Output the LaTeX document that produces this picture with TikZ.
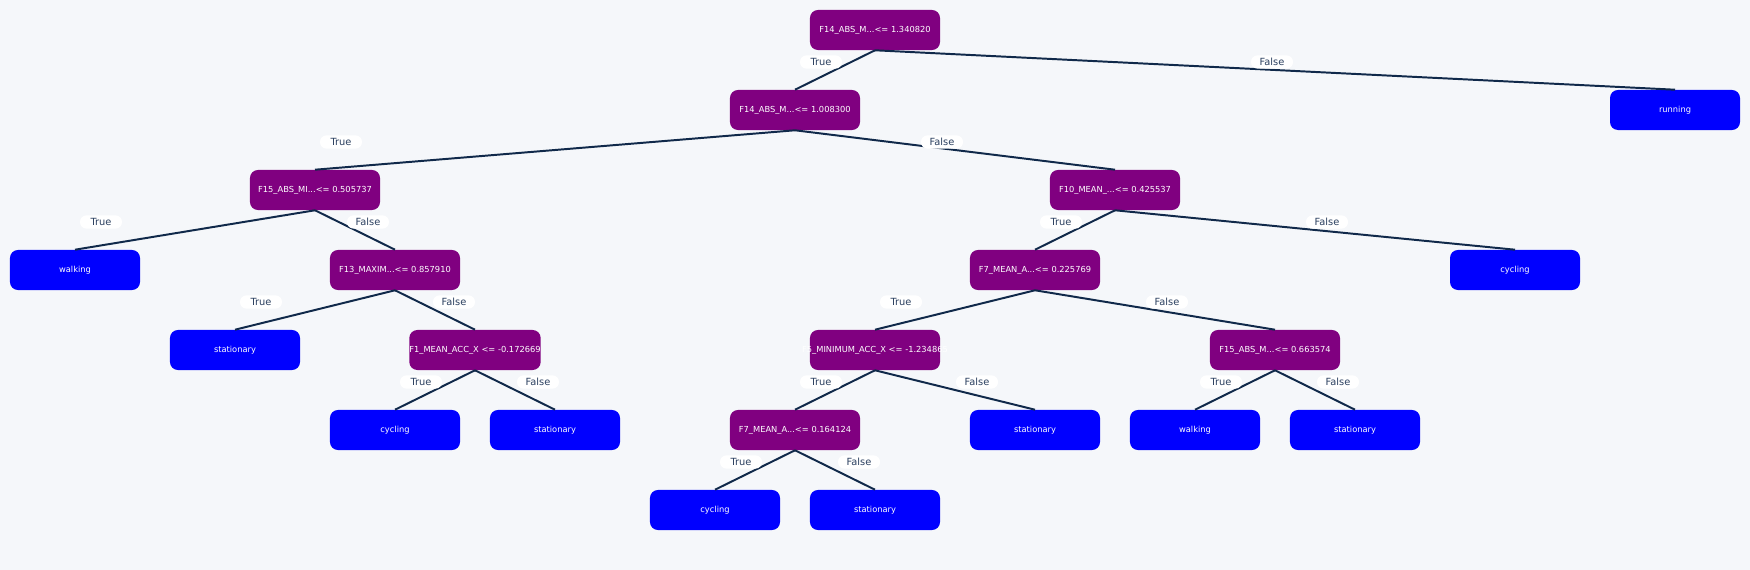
\documentclass[tikz,border=0pt]{standalone}
\usepackage{fontspec}
\setmainfont{DejaVu Sans}
\usepackage{tikz}

\definecolor{bgcol}{HTML}{F5F7FA}
\definecolor{splitcol}{HTML}{800080}
\definecolor{leafcol}{HTML}{0000FF}
\definecolor{edgecol}{HTML}{10294A}
\definecolor{labcol}{HTML}{2A3F5F}

\begin{document}
\begin{tikzpicture}[x=0.025cm, y=-0.025cm,
        splitnode/.style={fill=splitcol, text=white, rounded corners=0.2cm, minimum width=3.25cm, minimum height=1cm, inner sep=0pt, font=\fontsize{5.9}{7}\selectfont},
        leafnode/.style={splitnode, fill=leafcol},
        branch/.style={fill=white, text=labcol, rounded corners=0.16cm, minimum width=1.05cm, minimum height=0.33cm, inner sep=0pt, font=\fontsize{7}{8}\selectfont},
        link/.style={draw=edgecol, line width=1.4pt}]
        \fill[bgcol] (0,0) rectangle (1750,570);

        % splits
        \node (f14a) [splitnode] at (875,30) {F14\_ABS\_M...<= 1.340820};
        \node (f14b) [splitnode] at (795,110) {F14\_ABS\_M...<= 1.008300};
        \node (f15a) [splitnode] at (315,190) {F15\_ABS\_MI...<= 0.505737};
        \node (f10) [splitnode] at (1115,190) {F10\_MEAN\_...<= 0.425537};
        \node (f13) [splitnode] at (395,270) {F13\_MAXIM...<= 0.857910};
        \node (f7a) [splitnode] at (1035,270) {F7\_MEAN\_A...<= 0.225769};
        \node (f1) [splitnode] at (475,350) {F1\_MEAN\_ACC\_X <= -0.172669};
        \node (f5) [splitnode] at (875,350) {\makebox[3.25cm]{F5\_MINIMUM\_ACC\_X <= -1.234865}};
        \node (f15b) [splitnode] at (1275,350) {F15\_ABS\_M...<= 0.663574};
        \node (f7b) [splitnode] at (795,430) {F7\_MEAN\_A...<= 0.164124};

        % leaves
        \node (run) [leafnode] at (1675,110) {running};
        \node (walkA) [leafnode] at (75,270) {walking};
        \node (cycA) [leafnode] at (1515,270) {cycling};
        \node (statA) [leafnode] at (235,350) {stationary};
        \node (cycB) [leafnode] at (395,430) {cycling};
        \node (statB) [leafnode] at (555,430) {stationary};
        \node (statC) [leafnode] at (1035,430) {stationary};
        \node (walkB) [leafnode] at (1195,430) {walking};
        \node (statD) [leafnode] at (1355,430) {stationary};
        \node (cycC) [leafnode] at (715,510) {cycling};
        \node (statE) [leafnode] at (875,510) {stationary};

        \draw[link] (f14a.south) -- (f14b.north);
        \draw[link] (f14a.south) -- (run.north);
        \draw[link] (f14b.south) -- (f15a.north);
        \draw[link] (f14b.south) -- (f10.north);
        \draw[link] (f15a.south) -- (walkA.north);
        \draw[link] (f15a.south) -- (f13.north);
        \draw[link] (f13.south) -- (statA.north);
        \draw[link] (f13.south) -- (f1.north);
        \draw[link] (f1.south) -- (cycB.north);
        \draw[link] (f1.south) -- (statB.north);
        \draw[link] (f10.south) -- (f7a.north);
        \draw[link] (f10.south) -- (cycA.north);
        \draw[link] (f7a.south) -- (f5.north);
        \draw[link] (f7a.south) -- (f15b.north);
        \draw[link] (f5.south) -- (f7b.north);
        \draw[link] (f5.south) -- (statC.north);
        \draw[link] (f15b.south) -- (walkB.north);
        \draw[link] (f15b.south) -- (statD.north);
        \draw[link] (f7b.south) -- (cycC.north);
        \draw[link] (f7b.south) -- (statE.north);

        % branch labels
        \node (t1) [branch] at (821,62) {True};
        \node (e1) [branch] at (1272,62) {False};
        \node (t2) [branch] at (341,142) {True};
        \node (e2) [branch] at (942,142) {False};
        \node (t3) [branch] at (101,222) {True};
        \node (e3) [branch] at (368,222) {False};
        \node (t4) [branch] at (1061,222) {True};
        \node (e4) [branch] at (1327,222) {False};
        \node (t5) [branch] at (261,302) {True};
        \node (e5) [branch] at (454,302) {False};
        \node (t6) [branch] at (901,302) {True};
        \node (e6) [branch] at (1167,302) {False};
        \node (t7) [branch] at (421,382) {True};
        \node (e7) [branch] at (538,382) {False};
        \node (t8) [branch] at (821,382) {True};
        \node (e8) [branch] at (977,382) {False};
        \node (t9) [branch] at (1221,382) {True};
        \node (e9) [branch] at (1338,382) {False};
        \node (t10) [branch] at (741,462) {True};
        \node (e10) [branch] at (859,462) {False};
    \end{tikzpicture}
\end{document}
